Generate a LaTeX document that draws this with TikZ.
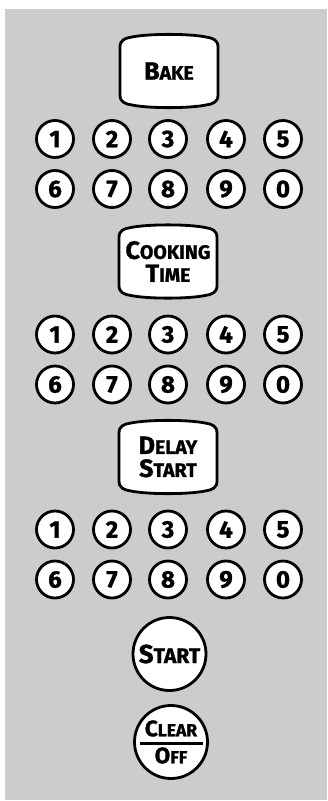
\documentclass[tikz,border=0pt]{standalone}
\usepackage{fontspec}
\setmainfont{Fira Sans}[BoldFeatures={FakeBold=1.2}]
\definecolor{panelgray}{gray}{0.80}
\newcommand\capA[1]{{\fontsize{25}{23}\selectfont #1}}
\newcommand\smA[1]{{\fontsize{19.5}{23}\selectfont #1}}
\newcommand\capB[1]{{\fontsize{26}{28}\selectfont #1}}
\newcommand\smB[1]{{\fontsize{21}{28}\selectfont #1}}
\newcommand\capC[1]{{\fontsize{22.5}{27}\selectfont #1}}
\newcommand\smC[1]{{\fontsize{17.5}{27}\selectfont #1}}
\newcommand\keybox[4]{%
  \draw[keyline,shift={(#2,#3)}] (-49,24) -- (-49,-24)
    .. controls (-49,-31) and (-44,-33) .. (-37,-34)
    .. controls (-20,-37.5) and (20,-37.5) .. (37,-34)
    .. controls (44,-33) and (49,-31) .. (49,-24)
    -- (49,24)
    .. controls (49,31) and (44,33) .. (37,34)
    .. controls (20,37.5) and (-20,37.5) .. (-37,34)
    .. controls (-44,33) and (-49,31) .. (-49,24) -- cycle;
  \node[keytext] (#1) at (#2,#3) {#4};}
\newcommand\digitrows[2]{%
  \foreach \d/\x in {1/55,2/112,3/168,4/226,5/283}
    \node[digitkey] (d#1\d) at (\x,#2) {\d};
  \foreach \d/\x in {6/55,7/112,8/168,9/226,0/283}
    \node[digitkey] (d#1\d) at (\x,#2+50) {\d};}
\begin{document}
\begin{tikzpicture}[x=1pt,y=-1pt,
  keyline/.style={draw=black,line width=2.8pt,fill=white,line join=round},
  keytext/.style={inner sep=0pt,align=center,font=\bfseries\fontsize{25}{23}\selectfont},
  digitkey/.style={circle,draw=black,line width=2.8pt,fill=white,minimum size=37pt,inner sep=0pt,font=\bfseries\fontsize{24}{24}\selectfont},
  roundkey/.style={circle,draw=black,line width=2.8pt,fill=white,minimum size=73pt,inner sep=0pt,align=center,font=\bfseries\fontsize{22.5}{27}\selectfont}]
\useasboundingbox (0,0) rectangle (327,801);
\fill[panelgray] (5,9) rectangle (327,800);
\keybox{bake}{169}{71}{\capA{B}\smA{AKE}}
\digitrows{a}{139}
\keybox{cook}{168}{261.5}{\capA{C}\smA{OOKING}\\\capA{T}\smA{IME}}
\digitrows{b}{334.5}
\keybox{delay}{168}{457}{\capA{D}\smA{ELAY}\\\capA{S}\smA{TART}}
\digitrows{c}{529.5}
\node[roundkey] (start) at (169.5,654) {\capB{S}\smB{TART}};
\node[roundkey] (clear) at (171,742) {\capC{C}\smC{LEAR}\\\capC{O}\smC{FF}};
\draw[line width=3pt] ([shift={(-31,1.5)}]clear.center) -- ([shift={(31.5,1.5)}]clear.center);
\end{tikzpicture}
\end{document}
